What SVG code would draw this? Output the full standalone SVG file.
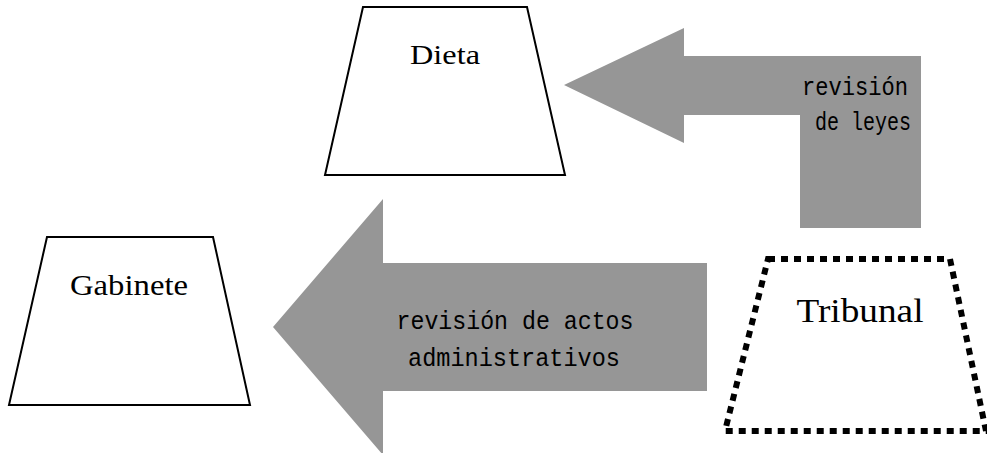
<svg xmlns="http://www.w3.org/2000/svg" width="987" height="453" viewBox="0 0 987 453">
<style>
.box{fill:#fff;stroke:#000;stroke-width:2}
.dash{fill:#fff;stroke:#000;stroke-width:6;stroke-dasharray:7 6}
.arrow{fill:#969696;stroke:none}
.lbl{font-family:"Liberation Serif","DejaVu Serif",serif;fill:#000;text-anchor:middle}
.mono{font-family:"Liberation Mono","DejaVu Sans Mono",monospace;font-size:26px;fill:#000}
</style>
<rect width="987" height="453" fill="#fff"/>
<g id="connectors">
<g id="arrow-leyes">
<polygon class="arrow" points="564,85 684,28 684,56 921,56 921,228 800,228 800,115 684,115 684,143"/>
<text class="mono" x="908" y="95" text-anchor="end" textLength="106" lengthAdjust="spacingAndGlyphs">revisión</text>
<text class="mono" x="911" y="130" text-anchor="end" textLength="96" lengthAdjust="spacingAndGlyphs">de leyes</text>
</g>
<g id="arrow-actos">
<polygon class="arrow" points="273,327 383,199 383,263 707,263 707,391 383,391 383,455"/>
<text class="mono" x="515" y="329" text-anchor="middle" textLength="237" lengthAdjust="spacingAndGlyphs">revisión de actos</text>
<text class="mono" x="514" y="366" text-anchor="middle" textLength="212" lengthAdjust="spacingAndGlyphs">administrativos</text>
</g>
</g>
<g id="dieta">
<polygon class="box" points="363,7 527,7 565,175 325,175"/>
<text class="lbl" x="445" y="64" font-size="28" textLength="70" lengthAdjust="spacingAndGlyphs">Dieta</text>
</g>
<g id="gabinete">
<polygon class="box" points="47,237 213,237 250,405 9,405"/>
<text class="lbl" x="129" y="295" font-size="29" textLength="118" lengthAdjust="spacingAndGlyphs">Gabinete</text>
</g>
<g id="tribunal">
<polygon class="dash" points="768,259 950,259 986,431 725,431"/>
<text class="lbl" x="860" y="322" font-size="34" textLength="127" lengthAdjust="spacingAndGlyphs">Tribunal</text>
</g>
</svg>
